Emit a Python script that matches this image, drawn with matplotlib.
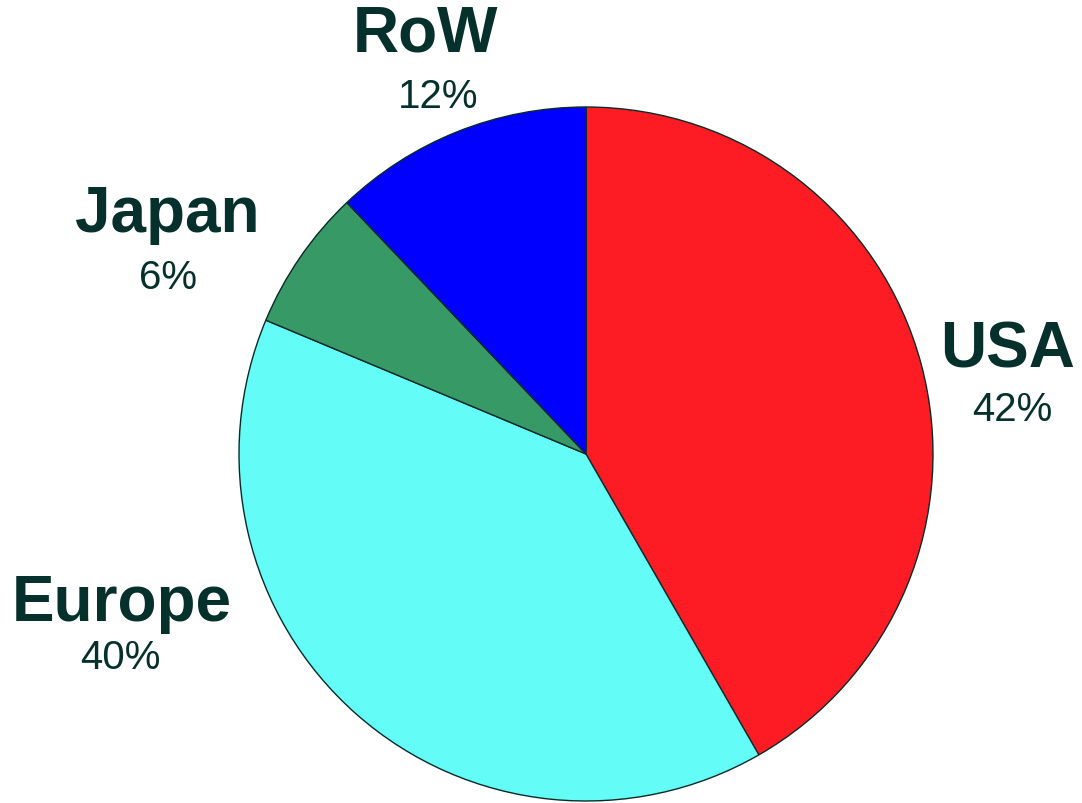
import matplotlib
matplotlib.use("Agg")
import matplotlib.pyplot as plt

categories = ["USA", "Europe", "Japan", "RoW"]
shares = [41.7, 39.6, 6.6, 12.1]
pct_labels = ["42%", "40%", "6%", "12%"]
colors = ["#FE1C24", "#63FCF7", "#369966", "#0000FE"]
text_color = "#05302C"

# label anchor positions (pixels from top-left), layout only
label_pos = {"USA": (1008, 351), "Europe": (122, 604), "Japan": (167, 215), "RoW": (425, 35)}
pct_offset = {"USA": (4, 59), "Europe": (-2, 54), "Japan": (1, 63), "RoW": (13, 62)}

W, H = 1082, 804
fig = plt.figure(figsize=(W / 100, H / 100), dpi=100)
ax = fig.add_axes([0, 0, 1, 1])

ax.pie(shares, colors=colors, startangle=90, counterclock=False,
       center=(586, H - 455), radius=347,
       wedgeprops=dict(edgecolor="#0A2A28", linewidth=1.0))
ax.set_xlim(0, W)
ax.set_ylim(0, H)
ax.set_aspect("equal")
ax.axis("off")

for cat, lab in zip(categories, pct_labels):
    x, y = label_pos[cat]
    ax.text(x, H - y, cat, ha="center", va="center", fontsize=46, fontweight="bold",
            family="Liberation Sans", color=text_color)
    dx, dy = pct_offset[cat]
    ax.text(x + dx, H - y - dy, lab, ha="center", va="center", fontsize=29,
            family="Liberation Sans", color=text_color)

fig.savefig("out.png", dpi=100)
